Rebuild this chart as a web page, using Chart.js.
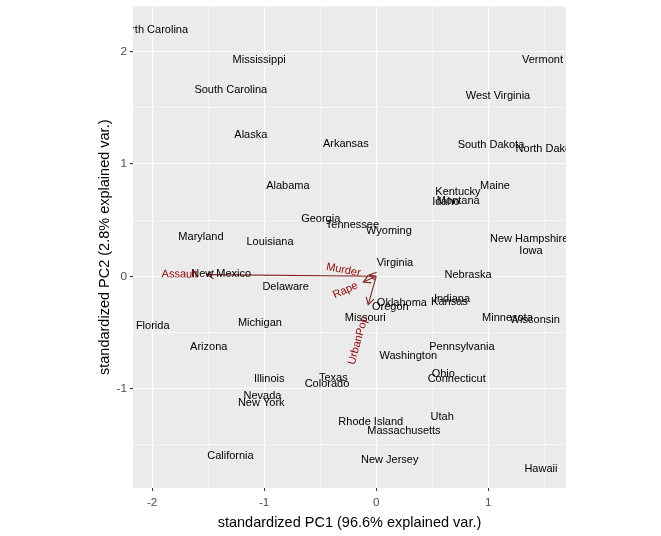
<!DOCTYPE html>
<html>
<head>
<meta charset="utf-8">
<script src="https://cdn.jsdelivr.net/npm/chart.js@4.4.1/dist/chart.umd.min.js"></script>
<style>
  html, body { margin: 0; padding: 0; background: #fff; }
</style>
</head>
<body>
<canvas id="chart" width="661" height="536"></canvas>
<script>
// state labels and their standardized PC scores
const stateNames = [
  "North Carolina", "Mississippi", "South Carolina", "Alaska", "Alabama", "Arkansas",
  "Vermont", "West Virginia", "South Dakota", "North Dakota", "Maine", "Kentucky",
  "Idaho", "Montana", "Wyoming", "Tennessee", "Georgia", "New Hampshire", "Iowa",
  "Virginia", "Nebraska", "Indiana", "Kansas", "Oklahoma", "Oregon", "Missouri",
  "Minnesota", "Wisconsin", "Pennsylvania", "Maryland", "Louisiana", "New Mexico",
  "Delaware", "Florida", "Michigan", "Arizona", "Illinois", "Texas", "Colorado",
  "Nevada", "New York", "California", "Rhode Island", "Washington", "Ohio",
  "Connecticut", "Utah", "Massachusetts", "New Jersey", "Hawaii"
];
const pc1 = [
  -1.996, -1.045, -1.298, -1.119, -0.788, -0.271,
  1.485, 1.088, 1.025, 1.534, 1.061, 0.730,
  0.623, 0.733, 0.114, -0.212, -0.495, 1.366, 1.382,
  0.168, 0.820, 0.677, 0.654, 0.230, 0.126, -0.097,
  1.172, 1.416, 0.766, -1.564, -0.948, -1.384,
  -0.808, -1.995, -1.038, -1.495, -0.955, -0.383, -0.439,
  -1.015, -1.026, -1.301, -0.048, 0.287, 0.599,
  0.719, 0.589, 0.248, 0.121, 1.471
];
const pc2 = [
  2.193, 1.926, 1.659, 1.258, 0.804, 1.178,
  1.926, 1.608, 1.169, 1.134, 0.804, 0.753,
  0.664, 0.670, 0.406, 0.457, 0.508, 0.329, 0.228,
  0.116, 0.009, -0.202, -0.232, -0.240, -0.276, -0.369,
  -0.371, -0.389, -0.632, 0.347, 0.303, 0.020,
  -0.098, -0.443, -0.419, -0.627, -0.917, -0.903, -0.962,
  -1.066, -1.131, -1.597, -1.300, -0.707, -0.873,
  -0.915, -1.250, -1.378, -1.636, -1.716
];

// variable arrows
const varNames = ["Murder", "Assault", "UrbanPop", "Rape"];
const varPC1 = [-0.063, -1.513, -0.071, -0.114];
const varPC2 = [0.012, 0.015, -0.253, -0.052];

// axis breaks
const xBreaks = [-2, -1.5, -1, -0.5, 0, 0.5, 1, 1.5];
const yBreaks = [-1.5, -1, -0.5, 0, 0.5, 1, 1.5, 2];

const FONT = '"Liberation Sans", Arial, sans-serif';
const isMajor = v => Number.isInteger(v);

const panelBg = {
  id: "panelBg",
  beforeDraw(chart) {
    const { ctx, chartArea: a } = chart;
    ctx.save();
    ctx.fillStyle = "#fff";
    ctx.fillRect(0, 0, chart.width, chart.height);
    ctx.fillStyle = "#EBEBEB";
    ctx.fillRect(a.left, a.top, a.right - a.left, a.bottom - a.top);
    ctx.restore();
  }
};

const biplotText = {
  id: "biplotText",
  afterDatasetsDraw(chart) {
    const { ctx, chartArea: a } = chart;
    const xs = chart.scales.x, ys = chart.scales.y;
    ctx.save();
    ctx.beginPath();
    ctx.rect(a.left, a.top, a.right - a.left, a.bottom - a.top);
    ctx.clip();

    // arrow heads
    const ox = xs.getPixelForValue(0), oy = ys.getPixelForValue(0);
    ctx.strokeStyle = "#832424";
    ctx.lineWidth = 1.1;
    varNames.forEach((n, i) => {
      const tx = xs.getPixelForValue(varPC1[i]);
      const ty = ys.getPixelForValue(varPC2[i]);
      const ang = Math.atan2(ty - oy, tx - ox);
      const len = 8;
      ctx.beginPath();
      ctx.moveTo(tx - len * Math.cos(ang - Math.PI / 6), ty - len * Math.sin(ang - Math.PI / 6));
      ctx.lineTo(tx, ty);
      ctx.lineTo(tx - len * Math.cos(ang + Math.PI / 6), ty - len * Math.sin(ang + Math.PI / 6));
      ctx.stroke();
    });

    // state labels
    ctx.font = "11px " + FONT;
    ctx.fillStyle = "#000";
    ctx.textAlign = "center";
    ctx.textBaseline = "middle";
    stateNames.forEach((n, i) => {
      ctx.fillText(n, xs.getPixelForValue(pc1[i]), ys.getPixelForValue(pc2[i]));
    });

    // variable names, rotated along the arrow, hjust 1.25
    ctx.fillStyle = "#8B0000";
    ctx.textAlign = "left";
    varNames.forEach((n, i) => {
      const tx = xs.getPixelForValue(varPC1[i]);
      const ty = ys.getPixelForValue(varPC2[i]);
      const angle = Math.atan(varPC2[i] / varPC1[i]);
      const w = ctx.measureText(n).width;
      const hjust = (1 - 1.5 * Math.sign(varPC1[i])) / 2;
      ctx.save();
      ctx.translate(tx, ty);
      ctx.rotate(-angle);
      ctx.fillText(n, -hjust * w, 0);
      ctx.restore();
    });
    ctx.restore();
  }
};

const datasets = [{
  label: "states",
  data: stateNames.map((n, i) => ({ x: pc1[i], y: pc2[i] })),
  pointRadius: 0,
  showLine: false
}].concat(varNames.map((n, i) => ({
  label: n,
  data: [{ x: 0, y: 0 }, { x: varPC1[i], y: varPC2[i] }],
  showLine: true,
  borderColor: "#832424",
  borderWidth: 1.1,
  pointRadius: 0,
  fill: false
})));

const gridOpts = {
  color: "#FFFFFF",
  lineWidth: c => (c.tick && isMajor(c.tick.value)) ? 1.1 : 0.55,
  tickColor: c => (c.tick && isMajor(c.tick.value)) ? "#333333" : "rgba(0,0,0,0)",
  tickLength: 3,
  tickWidth: 1.1
};

new Chart(document.getElementById("chart"), {
  type: "scatter",
  data: { datasets },
  options: {
    responsive: false,
    animation: false,
    devicePixelRatio: 1,
    layout: { padding: { left: 0, right: 95, top: 6.5, bottom: 0 } },
    plugins: {
      legend: { display: false },
      tooltip: { enabled: false }
    },
    scales: {
      x: {
        type: "linear",
        min: -2.171,
        max: 1.695,
        afterBuildTicks: s => { s.ticks = xBreaks.map(v => ({ value: v })); },
        afterFit: s => { s.height = 48; s.paddingLeft = 0; s.paddingRight = 0; },
        border: { display: false },
        grid: gridOpts,
        ticks: {
          autoSkip: false,
          maxRotation: 0,
          padding: 4.5,
          color: "#4D4D4D",
          font: { family: FONT, size: 11.7 },
          callback: v => isMajor(v) ? String(v) : ""
        },
        title: {
          display: true,
          text: "standardized PC1 (96.6% explained var.)",
          color: "#000",
          font: { family: FONT, size: 14.5 },
          padding: { top: 0, bottom: 4.5 }
        }
      },
      y: {
        type: "linear",
        min: -1.885,
        max: 2.402,
        afterBuildTicks: s => { s.ticks = yBreaks.map(v => ({ value: v })); },
        afterFit: s => { s.width = 133; s.paddingTop = 0; s.paddingBottom = 0; },
        border: { display: false },
        grid: gridOpts,
        ticks: {
          autoSkip: false,
          padding: 3,
          color: "#4D4D4D",
          font: { family: FONT, size: 11.7 },
          callback: v => isMajor(v) ? String(v) : ""
        },
        title: {
          display: true,
          text: "standardized PC2 (2.8% explained var.)",
          color: "#000",
          font: { family: FONT, size: 14.5 },
          padding: { top: 96, bottom: 0 }
        }
      }
    }
  },
  plugins: [panelBg, biplotText]
});
</script>
</body>
</html>
